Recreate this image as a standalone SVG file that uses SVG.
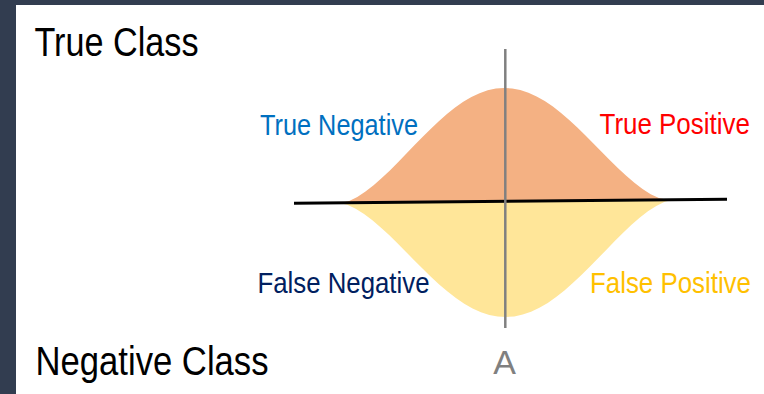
<svg xmlns="http://www.w3.org/2000/svg" width="764" height="394" viewBox="0 0 764 394">
<style>
.lbl{font-family:"Liberation Sans",Arial,sans-serif;}
.big{font-size:40px;fill:#000;}
.mid{font-size:29px;}
.axis{fill:none;stroke-linecap:butt;}
</style>
<rect x="0" y="0" width="764" height="394" fill="#ffffff"/>
<rect x="0" y="0" width="764" height="5" fill="#323d50"/>
<rect x="0" y="0" width="16" height="394" fill="#323d50"/>

<g id="true-dist">
<path fill="#f4b183" d="M341,202.9 L349.2,200.9 L357.3,196.9 L365.5,191.6 L373.6,185.2 L381.75,178.1 L389.9,170.4 L398.05,162.2 L406.2,153.8 L414.35,145.3 L422.5,137 L430.65,128.9 L438.8,121.2 L446.95,114 L455.1,107.5 L463.25,101.8 L471.4,97 L479.55,93.2 L487.7,90.3 L495.85,88.6 L504,88 L512.15,88.4 L520.3,90 L528.45,92.7 L536.6,96.4 L544.75,101.1 L552.9,106.6 L561.05,113 L569.2,120 L577.35,127.5 L585.5,135.5 L593.65,143.7 L601.8,152 L609.95,160.2 L618.1,168.2 L626.25,175.8 L634.4,182.8 L642.55,189 L650.7,194.2 L658.85,198 L667,199.85 Z"/>
</g>
<g id="negative-dist">
<path fill="#ffe699" d="M339,202.9 L347.35,204.8 L355.7,208.7 L364.05,213.9 L372.4,220.3 L380.75,227.4 L389.1,235.1 L397.45,243.3 L405.8,251.7 L414.15,260.2 L422.5,268.6 L430.85,276.7 L439.2,284.4 L447.55,291.5 L455.9,298 L464.25,303.7 L472.6,308.4 L480.95,312.2 L489.3,314.9 L497.65,316.6 L506,317 L514.35,316.4 L522.7,314.6 L531.05,311.7 L539.4,307.8 L547.75,302.9 L556.1,297.1 L564.45,290.4 L572.8,283.1 L581.15,275.3 L589.5,267 L597.85,258.5 L606.2,249.9 L614.55,241.3 L622.9,233 L631.25,225.1 L639.6,217.8 L647.95,211.3 L656.3,205.9 L664.65,201.8 L673,199.8 Z"/>
</g>

<g id="connectors">
<line class="axis" x1="294" y1="203.3" x2="727" y2="199.3" stroke="#000000" stroke-width="3"/>
<line class="axis" x1="505.3" y1="49" x2="505.3" y2="328" stroke="#808080" stroke-width="2.5"/>
</g>

<g id="true-class"><text class="lbl big" x="34.5" y="56" textLength="164" lengthAdjust="spacingAndGlyphs">True Class</text></g>
<g id="negative-class"><text class="lbl big" x="35.5" y="375" textLength="233" lengthAdjust="spacingAndGlyphs">Negative Class</text></g>
<g id="true-negative"><text class="lbl mid" x="260" y="135" fill="#0070c0" textLength="158" lengthAdjust="spacingAndGlyphs">True Negative</text></g>
<g id="true-positive" transform="translate(599.5,134) scale(0.895,1)"><text class="lbl mid" x="0" y="0" fill="#ff0000">True Positive</text></g>
<g id="false-negative"><text class="lbl" x="257.5" y="293.3" font-size="30" fill="#002060" textLength="172" lengthAdjust="spacingAndGlyphs">False Negative</text></g>
<g id="false-positive" transform="translate(590,293.3) scale(0.862,1)"><text class="lbl" x="0" y="0" font-size="30" fill="#ffc000">False Positive</text></g>
<g id="threshold-a"><text class="lbl" x="504.5" y="374" font-size="34" fill="#808080" text-anchor="middle">A</text></g>
</svg>
